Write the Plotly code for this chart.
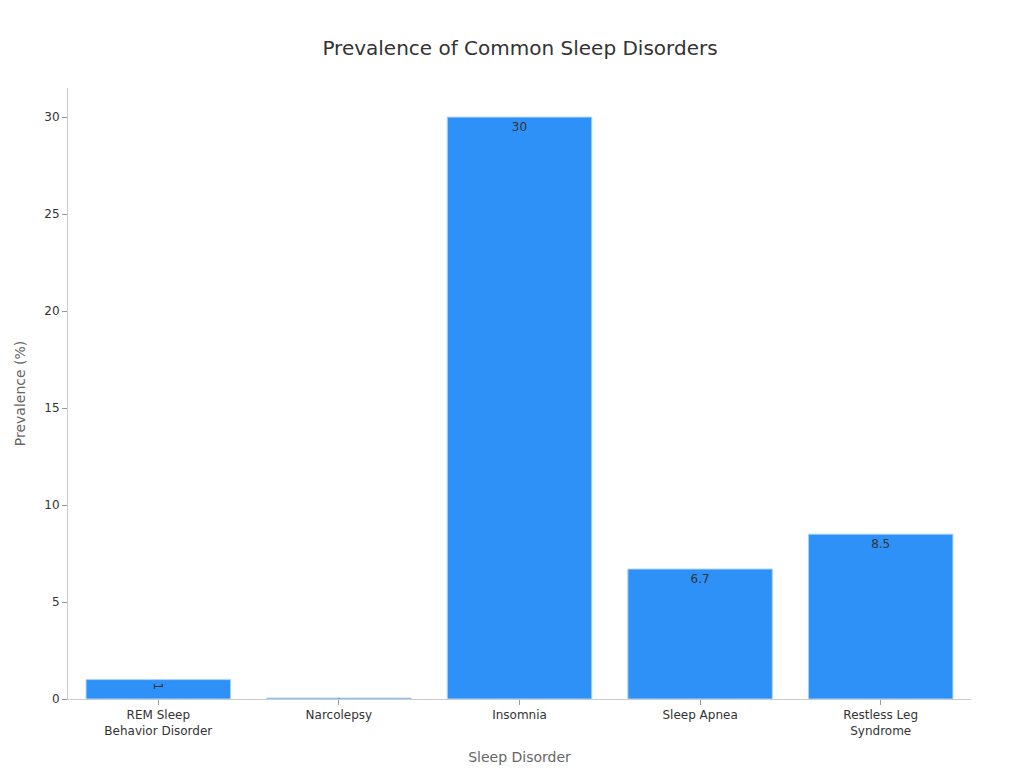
import plotly.graph_objects as go

disorders = ["REM Sleep<br>Behavior Disorder", "Narcolepsy", "Insomnia", "Sleep Apnea", "Restless Leg<br>Syndrome"]
prevalence = [1, 0.05, 30, 6.7, 8.5]

fig = go.Figure(go.Bar(
    x=disorders, y=prevalence,
    text=[str(v) for v in prevalence],
    textposition="inside", insidetextanchor="end",
    textfont=dict(color="#333333", size=12),
    marker=dict(color="#2E91F8", line=dict(color="#A9D4FB", width=1)),
))

fig.update_layout(
    width=1024, height=768,
    title=dict(text="Prevalence of Common Sleep Disorders", x=0.5, y=0.957,
               font=dict(size=20, color="#333333")),
    font=dict(family="DejaVu Sans", size=12, color="#333333"),
    plot_bgcolor="white", paper_bgcolor="white",
    margin=dict(l=60, r=61, t=80, b=77),
    bargap=0.2,
    showlegend=False,
    xaxis=dict(title=dict(text="Sleep Disorder", font=dict(size=14, color="#666666")),
               showline=True, linecolor="#cccccc", ticks="outside", tickcolor="#999999",
               ticklen=5),
    yaxis=dict(title=dict(text="Prevalence (%)", font=dict(size=14, color="#666666")),
               showline=True, linecolor="#cccccc", ticks="outside", tickcolor="#999999",
               ticklen=5, showgrid=False, zeroline=False, range=[0, 31.5],
               dtick=5),
)

fig.write_html("out.html")
